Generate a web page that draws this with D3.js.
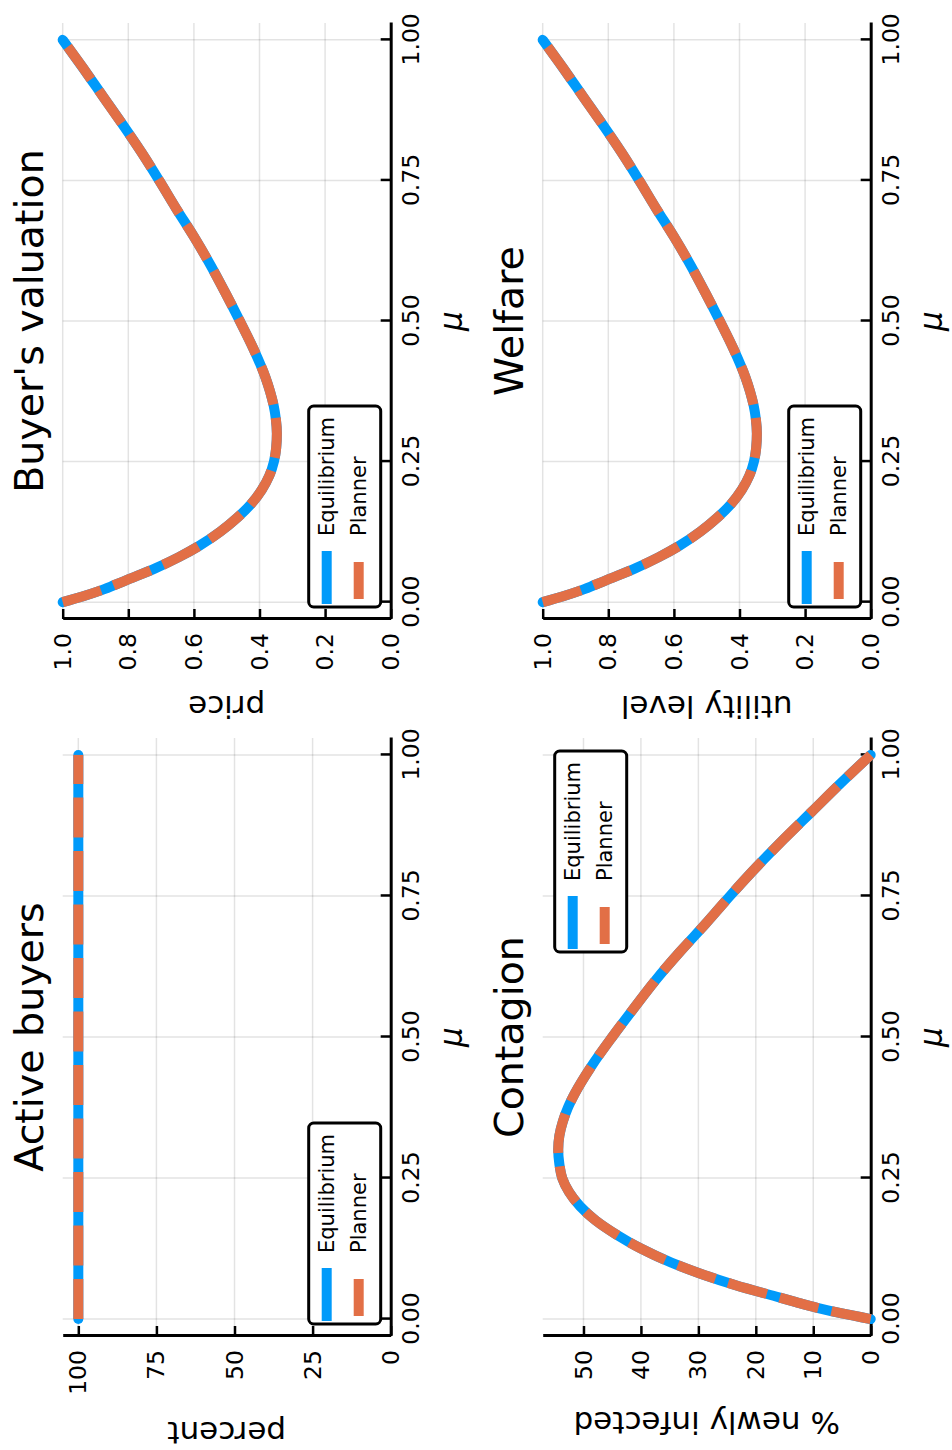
<!DOCTYPE html>
<html>
<head>
<meta charset="utf-8" />
<title>Equilibrium vs Planner</title>
<style type="text/css">
body { margin: 0; background: #fff; }
svg text { font-family: "DejaVu Sans", sans-serif; fill: #000; }
</style>
<script src="https://d3js.org/d3.v7.min.js"></script>
</head>
<body>
<div id="chart"></div>
<script>

// share of infected sellers
var muGrid = [0, 0.01, 0.02, 0.03, 0.04, 0.06, 0.08, 0.10, 0.125, 0.15, 0.175, 0.20,
              0.225, 0.25, 0.275, 0.30, 0.325, 0.35, 0.375, 0.40, 0.45, 0.50, 0.55,
              0.60, 0.65, 0.70, 0.75, 0.80, 0.85, 0.90, 0.95, 1.00];

var activeMu = [0, 1];
var activeEquilibrium = [100, 100];
var activePlanner = [100, 100];

var priceEquilibrium = [1.0, 0.94, 0.888, 0.844, 0.802, 0.718, 0.646, 0.584, 0.52, 0.468, 0.425, 0.393,
                        0.37, 0.356, 0.349, 0.347, 0.35, 0.357, 0.368, 0.382, 0.418, 0.46, 0.504,
                        0.55, 0.60, 0.654, 0.706, 0.76, 0.818, 0.878, 0.938, 1.0];
var pricePlanner = [1.0, 0.94, 0.888, 0.844, 0.802, 0.718, 0.646, 0.584, 0.52, 0.468, 0.425, 0.393,
                    0.37, 0.356, 0.349, 0.347, 0.35, 0.357, 0.368, 0.382, 0.418, 0.46, 0.504,
                    0.55, 0.60, 0.654, 0.706, 0.76, 0.818, 0.878, 0.938, 1.0];

var contagionEquilibrium = [0, 5, 9.3, 13, 16.5, 23.5, 29.5, 34.7, 40, 44.3, 47.9, 50.6,
                            52.5, 53.7, 54.2, 54.4, 54.2, 53.6, 52.7, 51.5, 48.5, 45, 41.3,
                            37.5, 33.3, 28.8, 24.5, 20, 15.2, 10.2, 5.2, 0];
var contagionPlanner = [0, 5, 9.3, 13, 16.5, 23.5, 29.5, 34.7, 40, 44.3, 47.9, 50.6,
                        52.5, 53.7, 54.2, 54.4, 54.2, 53.6, 52.7, 51.5, 48.5, 45, 41.3,
                        37.5, 33.3, 28.8, 24.5, 20, 15.2, 10.2, 5.2, 0];

var welfareEquilibrium = [1.0, 0.94, 0.888, 0.844, 0.802, 0.718, 0.646, 0.584, 0.52, 0.468, 0.425, 0.393,
                          0.37, 0.356, 0.349, 0.347, 0.35, 0.357, 0.368, 0.382, 0.418, 0.46, 0.504,
                          0.55, 0.60, 0.654, 0.706, 0.76, 0.818, 0.878, 0.938, 1.0];
var welfarePlanner = [1.0, 0.94, 0.888, 0.844, 0.802, 0.718, 0.646, 0.584, 0.52, 0.468, 0.425, 0.393,
                      0.37, 0.356, 0.349, 0.347, 0.35, 0.357, 0.368, 0.382, 0.418, 0.46, 0.504,
                      0.55, 0.60, 0.654, 0.706, 0.76, 0.818, 0.878, 0.938, 1.0];

var muTicks = [0, 0.25, 0.5, 0.75, 1];
var percentTicks = [0, 25, 50, 75, 100];
var unitTicks = [0, 0.2, 0.4, 0.6, 0.8, 1.0];
var infectedTicks = [0, 10, 20, 30, 40, 50];
var seriesNames = ["Equilibrium", "Planner"];
var seriesColors = ["#009AFA", "#E26F46"];

// the figure is drawn landscape (1450 x 952) and then turned a quarter left
var W = 1450, H = 952;
var cols = [{x0: 114, x1: 712}, {x0: 831, x1: 1427}];
var rows = [{y0: 62.7, y1: 390.7}, {y0: 542.7, y1: 870.7}];

var panels = [
  {col: 0, row: 0, title: "Active buyers", ylabel: "percent", ylabelX: 28,
   ydomain: [0, 105], yticks: percentTicks, fmt: d3.format("d"), legend: "bottomleft",
   mu: activeMu, series: [activeEquilibrium, activePlanner]},
  {col: 1, row: 0, title: "Buyer's valuation", ylabel: "price", ylabelX: 754,
   ydomain: [0, 1], yticks: unitTicks, fmt: d3.format(".1f"), legend: "bottomleft",
   mu: muGrid, series: [priceEquilibrium, pricePlanner]},
  {col: 0, row: 1, title: "Contagion", ylabel: "% newly infected", ylabelX: 38,
   ydomain: [0, 57.1], yticks: infectedTicks, fmt: d3.format("d"), legend: "topright",
   mu: muGrid, series: [contagionEquilibrium, contagionPlanner]},
  {col: 1, row: 1, title: "Welfare", ylabel: "utility level", ylabelX: 754,
   ydomain: [0, 1], yticks: unitTicks, fmt: d3.format(".1f"), legend: "bottomleft",
   mu: muGrid, series: [welfareEquilibrium, welfarePlanner]}
];

var svg = d3.select("#chart").append("svg")
    .attr("width", H)
    .attr("height", W);

var fig = svg.append("g")
    .attr("transform", "translate(0," + W + ") rotate(-90)");

panels.forEach(function(p) {
  var c = cols[p.col], r = rows[p.row];
  var x = d3.scaleLinear().domain([-0.03, 1.03]).range([c.x0, c.x1]);
  var y = d3.scaleLinear().domain(p.ydomain).range([r.y1, r.y0]);
  var g = fig.append("g");

  // grid
  g.selectAll(".gx").data(muTicks).enter().append("line")
    .attr("x1", d => x(d)).attr("x2", d => x(d))
    .attr("y1", r.y0).attr("y2", r.y1)
    .attr("stroke", "rgba(0,0,0,0.11)").attr("stroke-width", 1.5);
  g.selectAll(".gy").data(p.yticks).enter().append("line")
    .attr("x1", c.x0).attr("x2", c.x1)
    .attr("y1", d => y(d)).attr("y2", d => y(d))
    .attr("stroke", "rgba(0,0,0,0.11)").attr("stroke-width", 1.5);

  // axes
  var xAxis = g.append("g")
    .attr("transform", "translate(0," + r.y1 + ")")
    .call(d3.axisBottom(x).tickValues(muTicks).tickFormat(d3.format(".2f"))
      .tickSizeInner(-10).tickSizeOuter(0).tickPadding(12));
  var yAxis = g.append("g")
    .attr("transform", "translate(" + c.x0 + ",0)")
    .call(d3.axisLeft(y).tickValues(p.yticks).tickFormat(p.fmt)
      .tickSizeInner(-10).tickSizeOuter(0).tickPadding(14));
  [xAxis, yAxis].forEach(function(a) {
    a.select(".domain").attr("stroke", "#000").attr("stroke-width", 3);
    a.selectAll(".tick line").attr("stroke", "#000").attr("stroke-width", 2.5);
    a.selectAll(".tick text").style("font-size", "23.5px")
      .style("font-family", "'DejaVu Sans', sans-serif").attr("fill", "#000");
  });

  // lines
  var line = d3.line()
    .x(d => x(d[0])).y(d => y(d[1]))
    .curve(d3.curveMonotoneX);
  p.series.forEach(function(vals, i) {
    var pts = p.mu.map((m, k) => [m, vals[k]]);
    var path = g.append("path")
      .datum(pts)
      .attr("d", line)
      .attr("fill", "none")
      .attr("stroke", seriesColors[i])
      .attr("stroke-width", 10)
      .attr("stroke-linejoin", "round");
    if (i == 0) path.attr("stroke-linecap", "round");
    else path.attr("stroke-linecap", "butt").attr("stroke-dasharray", "40 13.5");
  });

  // title and guides
  g.append("text")
    .attr("x", (c.x0 + c.x1) / 2).attr("y", r.y0 - 20)
    .attr("text-anchor", "middle")
    .style("font-size", "39.5px")
    .text(p.title);
  g.append("text")
    .attr("x", (c.x0 + c.x1) / 2).attr("y", r.y1 + 71)
    .attr("text-anchor", "middle")
    .style("font-size", "31px").style("font-style", "italic")
    .text("\u03bc");
  g.append("text")
    .attr("transform", "translate(" + p.ylabelX + "," + (r.y0 + r.y1) / 2 + ") rotate(-90)")
    .attr("text-anchor", "middle")
    .style("font-size", "31px")
    .text(p.ylabel);

  // legend
  var bw = 201, bh = 72, bx, by;
  if (p.legend == "bottomleft") { bx = c.x0 + 12; by = r.y1 - 10 - bh; }
  else { bx = c.x1 - 13 - bw; by = r.y0 + 12; }
  var lg = g.append("g").attr("transform", "translate(" + bx + "," + by + ")");
  lg.append("rect")
    .attr("width", bw).attr("height", bh).attr("rx", 5)
    .attr("fill", "#fff").attr("stroke", "#000").attr("stroke-width", 3);
  seriesNames.forEach(function(name, i) {
    var ly = 18 + i * 32;
    var s = lg.append("line")
      .attr("x1", 8).attr("x2", 51).attr("y1", ly).attr("y2", ly)
      .attr("stroke", seriesColors[i]).attr("stroke-width", 10);
    if (i == 0) s.attr("stroke-linecap", "square");
    else s.attr("stroke-dasharray", "37 13.5");
    lg.append("text")
      .attr("x", 71).attr("y", ly)
      .attr("dominant-baseline", "central")
      .style("font-size", "21px")
      .text(name);
  });
});

</script>
</body>
</html>
